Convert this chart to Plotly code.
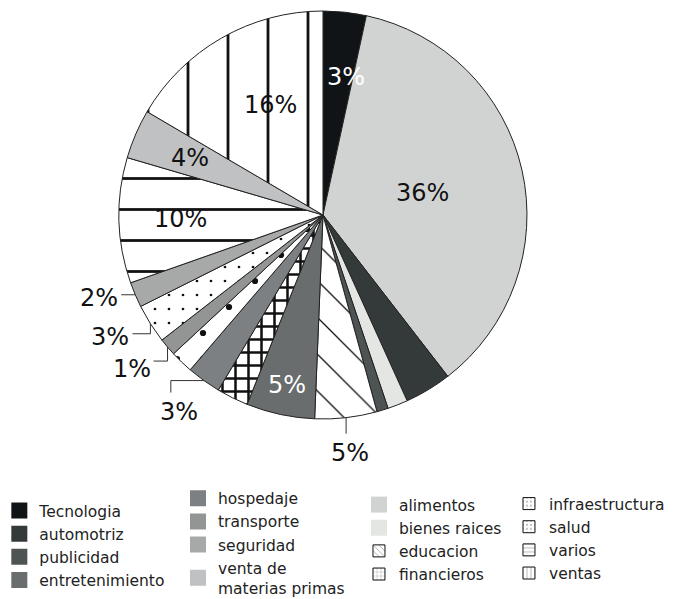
import math
import plotly.graph_objects as go

# porciones en el orden del pastel (sentido horario desde las 12)
categorias = ["Tecnologia", "alimentos", "automotriz", "bienes raices", "publicidad",
              "educacion", "entretenimiento", "financieros", "hospedaje", "infraestructura",
              "transporte", "salud", "seguridad", "varios", "venta de materias primas", "ventas"]
valores = [3.4, 36.0, 3.7, 1.6, 0.9, 4.9, 5.4, 2.5, 2.7, 1.8, 1.4, 3.1, 2.0, 9.9, 3.9, 16.5]
etiquetas = ["3%", "36%", "", "", "", "5%", "5%", "", "3%", "", "1%", "3%", "2%", "10%", "4%", "16%"]

# columnas de la leyenda
leyenda_cols = [
    ["Tecnologia", "automotriz", "publicidad", "entretenimiento"],
    ["hospedaje", "transporte", "seguridad", "venta de materias primas"],
    ["alimentos", "bienes raices", "educacion", "financieros"],
    ["infraestructura", "salud", "varios", "ventas"],
]

colores = {
    "Tecnologia": "#111417", "automotriz": "#343a3a", "publicidad": "#4e5353",
    "entretenimiento": "#696d6d", "hospedaje": "#7d8082", "transporte": "#939595",
    "seguridad": "#a7a9a9", "venta de materias primas": "#c0c1c2",
    "alimentos": "#d1d3d2", "bienes raices": "#e4e6e4",
    "educacion": "white", "financieros": "white", "infraestructura": "white",
    "salud": "white", "varios": "white", "ventas": "white",
}
patrones = {
    "educacion": dict(shape="\\", size=26, solidity=0.05),
    "financieros": dict(shape="+", size=13, solidity=0.35),
    "infraestructura": dict(shape=".", size=26, solidity=0.045),
    "salud": dict(shape=".", size=14, solidity=0.03),
    "varios": dict(shape="-", size=31, solidity=0.09),
    "ventas": dict(shape="|", size=40, solidity=0.07),
}

# etiquetas dentro de la porcion: (fraccion del radio, desplazamiento x en px)
radio_texto = {"Tecnologia": (0.68, 8), "alimentos": (0.5, 0), "entretenimiento": (0.85, 0),
               "varios": (0.7, 0), "venta de materias primas": (0.71, 0), "ventas": (0.62, 10)}
# etiquetas fuera: tramos de la linea guia (px) y ubicacion del texto
guias = {
    "seguridad": ([(-14, 0)], "right", "middle", (-1, 3)),
    "salud": ([(0, 10), (-18, 0)], "right", "middle", (-1, 3)),
    "transporte": ([(0, 14), (-14, 0)], "right", "middle", (-1, 8)),
    "hospedaje": ([(-33, 0), (0, 12)], "center", "top", (8, 3)),
    "educacion": ([(0, 16)], "center", "top", (4, 3)),
}

# la pagina tiene un margen de 8px, la figura se ajusta a la ventana
W, H = 667, 591
dom_x = [0.1664, 0.7781]
dom_y = [0.3046, 0.9949]
fuente = "DejaVu Sans"

fig = go.Figure()

fig.add_trace(go.Pie(
    labels=categorias,
    values=valores,
    textinfo="none",
    sort=False,
    direction="clockwise",
    rotation=0,
    marker=dict(
        colors=[colores[c] for c in categorias],
        line=dict(color="#222", width=1),
        pattern=dict(
            shape=[patrones.get(c, {}).get("shape", "") for c in categorias],
            size=[patrones.get(c, {}).get("size", 8) for c in categorias],
            solidity=[patrones.get(c, {}).get("solidity", 0.3) for c in categorias],
            fgcolor="#111",
            fgopacity=1,
            bgcolor="white",
            fillmode="overlay",
        ),
    ),
    domain=dict(x=dom_x, y=dom_y),
    showlegend=False,
    hoverinfo="label+percent",
))

# geometria del pastel en pixeles para ubicar las etiquetas
cx = (dom_x[0] + dom_x[1]) / 2 * W
cy = (1 - (dom_y[0] + dom_y[1]) / 2) * H
R = min((dom_x[1] - dom_x[0]) * W, (dom_y[1] - dom_y[0]) * H) / 2
total = sum(valores)


def papel(px, py):
    return px / W, 1 - py / H


acum = 0
for c, v, e in zip(categorias, valores, etiquetas):
    ang = math.radians((acum + v / 2) / total * 360)
    acum += v
    if e == "":
        continue
    color_txt = "white" if c in ["Tecnologia", "entretenimiento"] else "#111"
    if c in radio_texto:
        f, xs = radio_texto[c]
        r = f * R
        x, y = papel(cx + r * math.sin(ang), cy - r * math.cos(ang))
        fig.add_annotation(x=x, y=y, xref="paper", yref="paper", text=e, showarrow=False,
                           xanchor="center", yanchor="middle", xshift=xs,
                           font=dict(family=fuente, size=24, color=color_txt))
    else:
        tramos, xa, ya, desp = guias[c]
        px, py = cx + R * math.sin(ang), cy - R * math.cos(ang)
        ruta = "M %.4f %.4f" % papel(px, py)
        for dx, dy in tramos:
            px, py = px + dx, py + dy
            ruta += " L %.4f %.4f" % papel(px, py)
        fig.add_shape(type="path", path=ruta, xref="paper", yref="paper",
                      line=dict(color="#333", width=1))
        x, y = papel(px + desp[0], py + desp[1])
        fig.add_annotation(x=x, y=y, xref="paper", yref="paper", text=e, showarrow=False,
                           xanchor=xa, yanchor=ya,
                           font=dict(family=fuente, size=24, color=color_txt))

# entradas de la leyenda (trazas vacias)
nombres_leyenda = ["legend", "legend2", "legend3", "legend4"]
for nombre, col in zip(nombres_leyenda, leyenda_cols):
    for c in col:
        texto = "venta de<br>materias primas" if c == "venta de materias primas" else c
        if c in patrones:
            fig.add_trace(go.Bar(
                x=[None], y=[None], name=texto, legend=nombre,
                marker=dict(color="white", line=dict(color="#111", width=1),
                            pattern=dict(shape=patrones[c]["shape"], size=5, solidity=0.15,
                                         fgcolor="#111")),
            ))
        else:
            fig.add_trace(go.Scatter(
                x=[None], y=[None], name=texto, legend=nombre, mode="markers",
                marker=dict(symbol="square", size=18, color=colores[c]),
            ))

estilo_leyenda = dict(font=dict(family=fuente, size=15.5, color="#222"),
                      bgcolor="rgba(0,0,0,0)", yanchor="top", xanchor="left",
                      orientation="v", itemclick=False)

fig.update_layout(
    width=W, height=H,
    margin=dict(l=0, r=0, t=0, b=0, autoexpand=False),
    paper_bgcolor="white", plot_bgcolor="white",
    xaxis=dict(visible=False), yaxis=dict(visible=False),
    font=dict(family=fuente),
    legend=dict(x=-0.013, y=0.1777, **estilo_leyenda),
    legend2=dict(x=0.2549, y=0.1985, **estilo_leyenda),
    legend3=dict(x=0.5262, y=0.1878, **estilo_leyenda),
    legend4=dict(x=0.7511, y=0.1895, **estilo_leyenda),
)

fig.write_html("out.html")
